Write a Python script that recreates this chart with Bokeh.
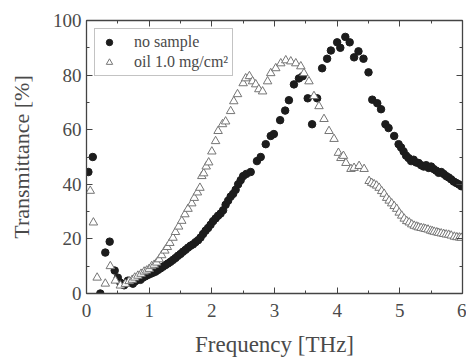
from bokeh.plotting import figure
from bokeh.models import LinearAxis, Range1d, Legend, LegendItem, FixedTicker
from bokeh.embed import file_html
from bokeh.resources import INLINE

# ---- data ----
ns_freq = [0.03, 0.10, 0.22, 0.30, 0.37, 0.45, 0.50, 0.54, 0.60, 0.66, 0.70, 0.74, 0.78, 0.82, 0.86,
           0.90, 0.94, 0.98, 1.02, 1.06, 1.10, 1.14, 1.18, 1.22, 1.26, 1.30, 1.34, 1.38, 1.42, 1.46,
           1.50, 1.54, 1.58, 1.62, 1.66, 1.70, 1.74, 1.78, 1.82, 1.86, 1.90, 1.94, 1.98, 2.02, 2.06,
           2.10, 2.14, 2.18, 2.22, 2.26, 2.30, 2.34, 2.38, 2.42, 2.46, 2.50, 2.55, 2.62, 2.72, 2.78,
           2.86, 2.94, 2.99, 3.09, 3.17, 3.23, 3.31, 3.39, 3.45, 3.53, 3.60, 3.68, 3.76, 3.84, 3.90,
           4.00, 4.05, 4.13, 4.20, 4.27, 4.34, 4.42, 4.50, 4.56, 4.64, 4.70, 4.77, 4.82, 4.91, 4.98,
           5.02, 5.06, 5.10, 5.14, 5.18, 5.22, 5.26, 5.30, 5.34, 5.38, 5.42, 5.46, 5.50, 5.54, 5.58,
           5.62, 5.66, 5.70, 5.74, 5.78, 5.82, 5.86, 5.90, 5.94, 5.98]
ns_trans = [44.5, 50.0, 0.0, 15.0, 19.0, 8.4, 5.8, 4.0, 3.0, 4.7, 4.0, 3.6, 4.5, 5.5, 5.0,
            5.8, 6.3, 6.8, 7.2, 7.6, 8.0, 8.6, 9.2, 9.8, 10.4, 11.0, 11.6, 12.3, 13.0, 13.8,
            14.5, 15.3, 16.0, 16.8, 17.5, 18.0, 18.8, 19.5, 20.5, 21.8, 23.0, 24.0, 25.2, 26.5, 27.5,
            28.5, 29.3, 30.5, 32.5, 34.0, 35.5, 36.5, 38.0, 40.0, 41.5, 43.0, 43.8, 44.5, 48.5, 50.0,
            54.7, 57.7, 58.4, 63.5, 67.0, 70.8, 76.6, 78.8, 79.6, 71.5, 62.0, 71.5, 82.5, 86.0, 89.0,
            92.0, 90.0, 94.0, 92.0, 86.5, 88.7, 86.0, 81.0, 71.0, 69.7, 67.5, 62.0, 60.6, 57.7, 54.7,
            53.5, 52.0, 50.5, 49.6, 48.5, 49.0, 48.0, 47.8, 47.0, 46.5, 47.0, 46.0, 46.5, 45.6, 45.0,
            44.2, 44.5, 43.8, 43.0, 42.5, 41.8, 41.0, 40.5, 40.0, 39.3]

oil_freq = [0.06, 0.11, 0.17, 0.30, 0.38, 0.46, 0.54, 0.62, 0.68, 0.73, 0.77, 0.82, 0.87, 0.92, 0.96,
            1.00, 1.04, 1.08, 1.12, 1.16, 1.20, 1.25, 1.29, 1.33, 1.38, 1.42, 1.47, 1.52, 1.57, 1.62,
            1.68, 1.72, 1.77, 1.81, 1.84, 1.87, 1.91, 1.95, 2.00, 2.06, 2.10, 2.17, 2.22, 2.30, 2.35,
            2.41, 2.50, 2.54, 2.60, 2.65, 2.70, 2.75, 2.81, 2.89, 2.94, 3.02, 3.10, 3.18, 3.26, 3.34,
            3.42, 3.47, 3.55, 3.63, 3.71, 3.79, 3.87, 3.95, 4.02, 4.06, 4.10, 4.14, 4.22, 4.27, 4.35,
            4.43, 4.51, 4.55, 4.59, 4.63, 4.67, 4.71, 4.75, 4.79, 4.83, 4.87, 4.91, 4.95, 4.99, 5.03,
            5.07, 5.11, 5.15, 5.19, 5.23, 5.27, 5.30, 5.34, 5.38, 5.41, 5.45, 5.49, 5.52, 5.55, 5.59,
            5.62, 5.66, 5.70, 5.74, 5.78, 5.82, 5.87, 5.91, 5.95, 5.98]
oil_trans = [37.6, 26.0, 5.8, 3.6, 10.0, 4.7, 2.9, 3.5, 4.5, 5.0, 5.8, 6.5, 7.2, 8.0, 8.4,
             9.0, 10.0, 10.5, 11.3, 12.5, 14.0, 15.7, 17.0, 18.5, 20.4, 22.5, 24.5, 26.6, 29.0, 31.0,
             33.0, 35.0, 37.0, 38.7, 43.0, 44.0, 46.5, 48.0, 52.0, 55.8, 59.5, 62.0, 63.0, 66.8, 70.4,
             73.0, 77.0, 78.8, 79.6, 77.7, 76.6, 74.8, 74.0, 77.7, 80.7, 82.5, 84.3, 85.4, 85.0, 84.3,
             83.2, 80.7, 77.7, 72.3, 68.6, 63.9, 59.5, 56.6, 51.5, 49.6, 50.4, 47.8, 45.6, 46.0, 46.7,
             45.6, 41.2, 40.5, 40.0, 39.5, 38.7, 37.5, 36.5, 35.0, 34.0, 33.0, 32.0, 31.0, 29.6, 28.5,
             27.4, 26.5, 26.0, 25.3, 24.8, 24.5, 24.2, 24.0, 23.8, 23.6, 23.4, 23.0, 22.8, 22.6, 22.4,
             22.2, 22.0, 21.8, 21.6, 21.5, 21.2, 20.8, 20.6, 20.5, 20.4]

x_ticks = [0, 1, 2, 3, 4, 5, 6]
y_ticks = [0, 20, 40, 60, 80, 100]
series_labels = ["no sample", "oil 1.0 mg/cm\u00b2"]
x_title = "Frequency [THz]"
y_title = "Transmittance [%]"

FONT = "Liberation Serif"
AX = "#444444"
TXT = "#4a4a4a"

p = figure(width=466, height=360, output_backend="svg", toolbar_location=None,
           x_range=Range1d(0, 6), y_range=Range1d(0, 100),
           min_border_left=86, min_border_right=4, min_border_top=20, min_border_bottom=67)
p.outline_line_color = None
p.grid.visible = False
p.background_fill_color = "white"
p.border_fill_color = "white"

r_ns = p.scatter(ns_freq, ns_trans, marker="circle", size=7.5, fill_color="#1c1c1c",
                 line_color="#1c1c1c")
r_oil = p.scatter(oil_freq, oil_trans, marker="triangle", size=8.5, fill_color="white",
                  line_color="#757575", line_width=1)

x_minor = [i * 0.5 for i in range(13)]
y_minor = [i * 10 for i in range(11)]

def style_axis(ax, labels=True):
    ax.axis_line_color = AX
    ax.axis_line_width = 1.3
    ax.major_tick_line_color = AX
    ax.minor_tick_line_color = AX
    ax.major_tick_in = 6
    ax.major_tick_out = 0
    ax.minor_tick_in = 3
    ax.minor_tick_out = 0
    if labels:
        ax.major_label_text_font = FONT
        ax.major_label_text_font_size = "19px"
        ax.major_label_text_color = TXT
        ax.axis_label_text_font = FONT
        ax.axis_label_text_font_style = "normal"
        ax.axis_label_text_color = TXT
    else:
        ax.major_label_standoff = 0

xa = p.xaxis[0]
ya = p.yaxis[0]
xa.ticker = FixedTicker(ticks=x_ticks, minor_ticks=x_minor)
ya.ticker = FixedTicker(ticks=y_ticks, minor_ticks=y_minor)
style_axis(xa)
style_axis(ya)
xa.axis_label = x_title
ya.axis_label = y_title
xa.axis_label_text_font_size = "23px"
ya.axis_label_text_font_size = "22px"
xa.major_label_standoff = 10
ya.major_label_standoff = 5
xa.axis_label_standoff = 12
ya.axis_label_standoff = 16

top = LinearAxis(ticker=FixedTicker(ticks=x_ticks, minor_ticks=x_minor),
                 major_label_overrides={t: "" for t in x_ticks})
right = LinearAxis(ticker=FixedTicker(ticks=y_ticks, minor_ticks=y_minor),
                   major_label_overrides={t: "" for t in y_ticks})
style_axis(top, labels=False)
style_axis(right, labels=False)
p.add_layout(top, "above")
p.add_layout(right, "right")

legend = Legend(items=[LegendItem(label=series_labels[0], renderers=[r_ns]),
                       LegendItem(label=series_labels[1], renderers=[r_oil])],
                location="top_left")
legend.label_text_font = FONT
legend.label_text_font_size = "16px"
legend.label_text_color = TXT
legend.border_line_color = "#888888"
legend.border_line_width = 1
legend.background_fill_alpha = 1
legend.padding = 4
legend.margin = 8
legend.spacing = 2
legend.glyph_width = 20
legend.glyph_height = 16
legend.label_height = 16
legend.label_standoff = 15
p.add_layout(legend, "center")

open("out.html", "w").write(file_html(p, INLINE))
